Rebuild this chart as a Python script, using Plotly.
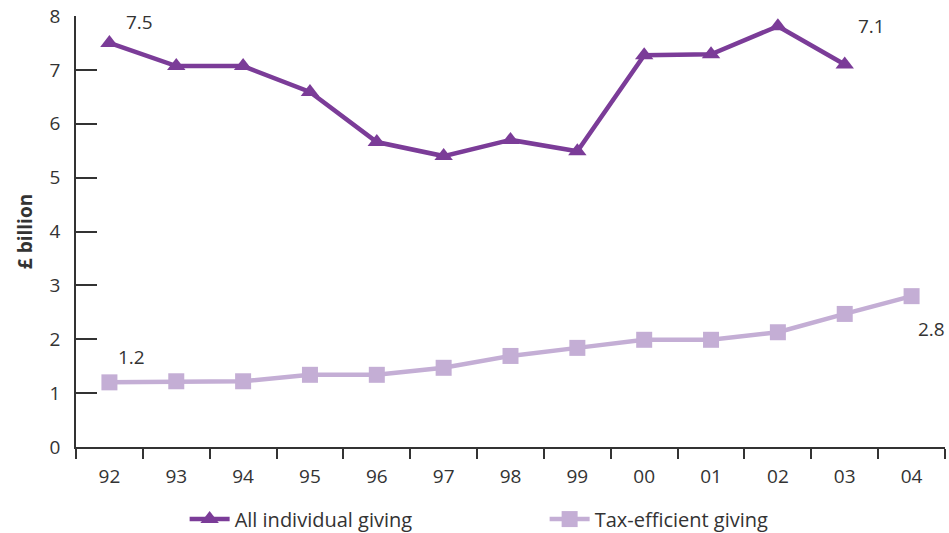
import plotly.graph_objects as go

years = ["92", "93", "94", "95", "96", "97", "98", "99", "00", "01", "02", "03", "04"]
all_giving = [7.5, 7.07, 7.07, 6.59, 5.66, 5.40, 5.70, 5.49, 7.27, 7.29, 7.81, 7.1]
tax_efficient = [1.2, 1.22, 1.22, 1.34, 1.34, 1.47, 1.69, 1.84, 1.99, 1.99, 2.13, 2.47, 2.8]
y_ticks = [0, 1, 2, 3, 4, 5, 6, 7, 8]

PURPLE = "#7b3c98"
LILAC = "#c4aed5"
INK = "#333333"
FONT = "Open Sans, Noto Sans, sans-serif"

fig = go.Figure()
fig.add_trace(go.Scatter(
    x=years[:len(all_giving)], y=all_giving, name="All individual giving",
    mode="lines+markers",
    line=dict(color=PURPLE, width=4.5),
    marker=dict(symbol="triangle-up", size=16, color=PURPLE),
))
fig.add_trace(go.Scatter(
    x=years, y=tax_efficient, name="Tax-efficient giving",
    mode="lines+markers",
    line=dict(color=LILAC, width=4.5),
    marker=dict(symbol="square", size=16, color=LILAC),
))

# value labels on the first and last point of each series (x given as category index)
labels = [
    (0, all_giving[0], 30, 21),
    (len(all_giving) - 1, all_giving[-1], 27, 38),
    (0, tax_efficient[0], 22, 25),
    (len(tax_efficient) - 1, tax_efficient[-1], 20, -33),
]
for xi, yv, dx, dy in labels:
    fig.add_annotation(
        x=xi, y=yv, text=f"{yv:.1f}", showarrow=False,
        xshift=dx, yshift=dy, font=dict(size=19, color=INK, family=FONT),
    )

fig.update_layout(
    width=949, height=533,
    margin=dict(l=76, r=4, t=16, b=86, autoexpand=False),
    paper_bgcolor="white", plot_bgcolor="white",
    font=dict(family=FONT, size=18, color=INK),
    showlegend=True,
    legend=dict(
        orientation="h", x=0.125, xanchor="left", y=-0.122, yanchor="top",
        font=dict(size=20, color=INK), entrywidth=305, entrywidthmode="pixels",
        itemwidth=40, tracegroupgap=0,
    ),
    xaxis=dict(
        type="category", categoryorder="array", categoryarray=years,
        range=[-0.5, len(years) - 0.5],
        showgrid=False, zeroline=False,
        showline=True, linecolor=INK, linewidth=1.5,
        ticks="outside", tickson="boundaries", ticklen=10, tickcolor=INK, tickwidth=1.5,
        ticklabelstandoff=11,
        tickfont=dict(size=19, color=INK),
    ),
    yaxis=dict(
        range=[0, 8], tickvals=y_ticks, showgrid=False, zeroline=False,
        showline=True, linecolor=INK, linewidth=1.5,
        ticks="inside", ticklen=21, tickcolor=INK, tickwidth=1.5,
        ticklabelstandoff=10,
        tickfont=dict(size=19, color=INK),
        title=dict(text="<b>£ billion</b>", font=dict(size=19, color=INK), standoff=12),
    ),
)

fig.write_html("out.html")
